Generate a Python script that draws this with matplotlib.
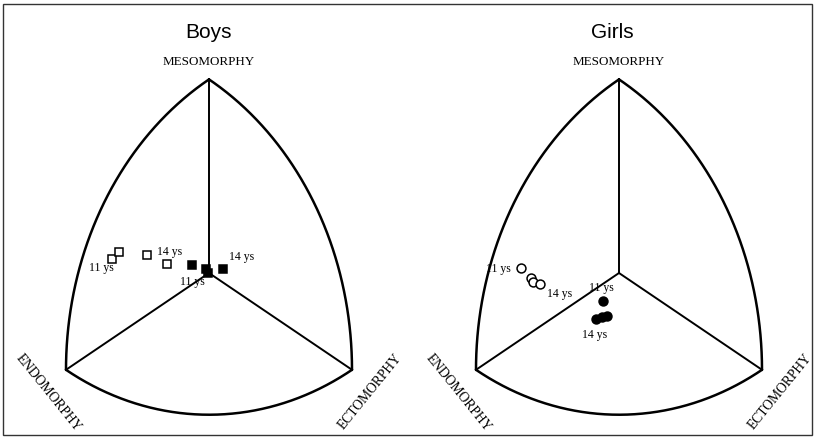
import numpy as np
import matplotlib
matplotlib.use("Agg")
import matplotlib.pyplot as plt
from matplotlib.patches import Rectangle

# ---- data (somatochart coordinates: X = ecto - endo, Y = 2*meso - endo - ecto)
panels = ["Boys", "Girls"]
axis_labels = ["MESOMORPHY", "ENDOMORPHY", "ECTOMORPHY"]

boys_open_x = [-5.41, -5.03, -3.45, -2.33]
boys_open_y = [1.13, 1.74, 1.51, 0.74]
boys_filled_x = [-0.03, -0.17, -0.93, 0.80]
boys_filled_y = [0.00, 0.37, 0.64, 0.36]

girls_open_x = [-5.50, -4.92, -4.79, -4.42]
girls_open_y = [0.39, -0.39, -0.72, -0.91]
girls_filled_x = [-0.88, -0.69, -0.97, -1.29]
girls_filled_y = [-2.31, -3.55, -3.61, -3.83]

age_labels = ["11 ys", "14 ys"]

# ---- layout constants
W, H, DPI = 816, 438, 100
K = 8.0                     # somatochart vertex scale
SX, SY = 143.0 / K, 12.1    # px per unit
serif = ["Liberation Serif", "DejaVu Serif"]

fig = plt.figure(figsize=(W / DPI, H / DPI), dpi=DPI)
fig.patch.set_facecolor("white")


def reuleaux(k):
    s3 = np.sqrt(3)
    verts = {"L": (-1.0, 0.0), "R": (1.0, 0.0), "T": (0.0, s3)}
    arcs = []
    for (a, b, c) in [("L", "R", "T"), ("R", "T", "L"), ("T", "L", "R")]:
        cx, cy = verts[c]
        ax_, ay_ = verts[a]
        bx_, by_ = verts[b]
        t0 = np.arctan2(ay_ - cy, ax_ - cx)
        t1 = np.arctan2(by_ - cy, bx_ - cx)
        if t1 < t0:
            t1 += 2 * np.pi
        if t1 - t0 > np.pi:
            t0, t1 = t1, t0 + 2 * np.pi
        t = np.linspace(t0, t1, 200)
        u = cx + 2 * np.cos(t)
        v = cy + 2 * np.sin(t)
        arcs.append((u * k, -k + v * (3 * k / s3)))
    return arcs


def draw_panel(ax, title, title_dx, ox, oy, fx, fy, kind, labs):
    for (x, y) in reuleaux(K):
        ax.plot(x, y, color="black", lw=1.8, solid_capstyle="round")
    for (vx, vy) in [(0, 2 * K), (-K, -K), (K, -K)]:
        ax.plot([0, vx], [0, vy], color="black", lw=1.4)
    mk = "s" if kind == "s" else "o"
    ms = 6.0 if kind == "s" else 6.4
    ax.plot(ox, oy, ls="none", marker=mk, ms=ms, mfc="white", mec="black", mew=1.1)
    ax.plot(fx, fy, ls="none", marker=mk, ms=ms, mfc="black", mec="black", mew=1.1)
    for (txt, x, y) in labs:
        ax.text(x, y, txt, fontsize=8.5, family=serif, ha="center", va="center")
    ax.text(0, 2 * K + 1.4, axis_labels[0], fontsize=9.4, family=serif,
            ha="center", va="center")
    ax.text(title_dx, 2 * K + 3.9, title, fontsize=15,
            family=["Liberation Sans", "DejaVu Sans"], ha="center", va="center")
    ax.text(-9.0, -9.9, axis_labels[1], fontsize=9.8, family=serif, rotation=-51,
            ha="center", va="center")
    ax.text(9.0, -9.8, axis_labels[2], fontsize=9.8, family=serif, rotation=51,
            ha="center", va="center")


def make_axes(left_px, cx_px, cy_px, width_px):
    ax = fig.add_axes([left_px / W, 0, width_px / W, 1])
    ax.set_xlim((0 - (cx_px - left_px)) / SX, (width_px - (cx_px - left_px)) / SX)
    ax.set_ylim(-(H - cy_px) / SY, cy_px / SY)
    ax.axis("off")
    return ax


ax1 = make_axes(0, 209, 273, 408)
draw_panel(ax1, panels[0], 0.0, boys_open_x, boys_open_y, boys_filled_x, boys_filled_y, "s",
           [(age_labels[0], -6.0, 0.4), (age_labels[1], -2.2, 1.75),
            (age_labels[0], -0.95, -0.75), (age_labels[1], 1.8, 1.3)])

ax2 = make_axes(408, 619, 273, 408)
draw_panel(ax2, panels[1], -0.4, girls_open_x, girls_open_y, girls_filled_x, girls_filled_y, "o",
           [(age_labels[0], -6.75, 0.33), (age_labels[1], -3.3, -1.75),
            (age_labels[0], -1.0, -1.25), (age_labels[1], -1.35, -5.1)])

fig.add_artist(Rectangle((3 / W, 3 / H), (W - 7) / W, (H - 7) / H, transform=fig.transFigure,
                         fill=False, ec="#333333", lw=1.0))

fig.savefig("out.png", dpi=DPI, facecolor="white")
